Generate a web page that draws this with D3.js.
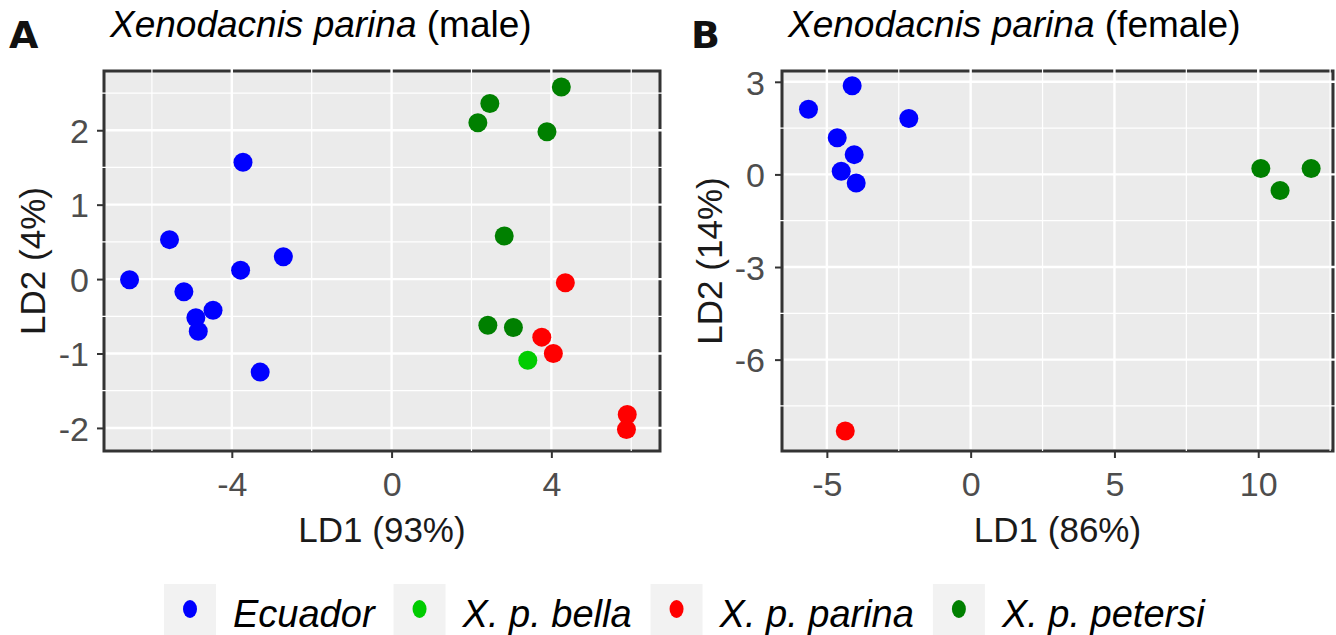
<!DOCTYPE html>
<html>
<head>
<meta charset="utf-8">
<script src="https://cdn.jsdelivr.net/npm/d3@7"></script>
<style>
  body { margin: 0; background: #fff; }
  svg { display: block; font-family: 'Liberation Sans', Arial, sans-serif; }
</style>
</head>
<body>
<svg id="chart" width="1336" height="635"></svg>
<script>
// groups in legend order
const groups = ['Ecuador', 'X. p. bella', 'X. p. parina', 'X. p. petersi'];
const groupColors = ['#0000FF', '#00CC00', '#FF0000', '#008000'];

// panel A - male, [LD1, LD2]
const maleEcuador = [[-6.56, -0.01], [-5.56, 0.53], [-5.20, -0.17], [-3.72, 1.57], [-3.78, 0.12],
  [-2.71, 0.30], [-4.90, -0.52], [-4.47, -0.42], [-4.84, -0.70], [-3.29, -1.25]];
const maleBella = [[3.41, -1.09]];
const maleParina = [[4.35, -0.05], [3.76, -0.78], [4.05, -1.00], [5.90, -1.82], [5.88, -2.02]];
const malePetersi = [[2.16, 2.10], [2.46, 2.36], [4.25, 2.58], [3.89, 1.98], [2.82, 0.58],
  [2.41, -0.62], [3.05, -0.65]];

// panel B - female
const femaleEcuador = [[-5.64, 2.11], [-4.12, 2.87], [-2.15, 1.81], [-4.64, 1.19], [-4.05, 0.64],
  [-4.50, 0.10], [-3.98, -0.28]];
const femaleBella = [];
const femaleParina = [[-4.36, -8.31]];
const femalePetersi = [[10.09, 0.19], [10.76, -0.52], [11.84, 0.19]];

const maleXTicks = [-4, 0, 4];
const maleXMinor = [-6, -2, 2, 6];
const maleYTicks = [-2, -1, 0, 1, 2];
const maleYMinor = [-1.5, -0.5, 0.5, 1.5, 2.5];
const femaleXTicks = [-5, 0, 5, 10];
const femaleXMinor = [-2.5, 2.5, 7.5, 12.5];
const femaleYTicks = [-6, -3, 0, 3];
const femaleYMinor = [-7.5, -4.5, -1.5, 1.5];

const svg = d3.select('#chart');
const color = d3.scaleOrdinal().domain(groups).range(groupColors);
const plainNum = d => String(d); // ggplot uses a plain hyphen for negatives

function drawPanel(p) {
  const x = d3.scaleLinear().domain(p.xDomain).range([p.left, p.right]);
  const y = d3.scaleLinear().domain(p.yDomain).range([p.bottom, p.top]);
  const g = svg.append('g');

  // panel letter + title
  g.append('text').attr('x', p.letterX).attr('y', 48)
    .style('font-family', "'DejaVu Sans', sans-serif")
    .style('font-weight', 'bold').style('font-size', '38px').style('fill', '#111')
    .text(p.letter);
  const title = g.append('text').attr('x', p.left + 6).attr('y', 37)
    .style('font-size', '37px').style('fill', '#000');
  title.append('tspan').style('font-style', 'italic').text('Xenodacnis parina');
  title.append('tspan').text(' ' + p.sex);

  // background + border
  g.append('rect').attr('x', p.left).attr('y', p.top)
    .attr('width', p.right - p.left).attr('height', p.bottom - p.top)
    .attr('fill', '#EBEBEB').attr('stroke', '#333').attr('stroke-width', 3);

  // grid (runs over the border, like the original)
  const grid = g.append('g').attr('stroke', '#fff');
  grid.selectAll('.vmin').data(p.xMinor).join('line')
    .attr('x1', d => x(d)).attr('x2', d => x(d)).attr('y1', p.top - 2).attr('y2', p.bottom)
    .attr('stroke-width', 1.2);
  grid.selectAll('.hmin').data(p.yMinor).join('line')
    .attr('y1', d => y(d)).attr('y2', d => y(d)).attr('x1', p.left - 2).attr('x2', p.right + 2)
    .attr('stroke-width', 1.2);
  grid.selectAll('.vmaj').data(p.xTicks).join('line')
    .attr('x1', d => x(d)).attr('x2', d => x(d)).attr('y1', p.top - 2).attr('y2', p.bottom - 2)
    .attr('stroke-width', 2.4);
  grid.selectAll('.hmaj').data(p.yTicks).join('line')
    .attr('y1', d => y(d)).attr('y2', d => y(d)).attr('x1', p.left + 2).attr('x2', p.right + 2)
    .attr('stroke-width', 2.4);

  // axes
  const xAxis = g.append('g').attr('transform', `translate(0,${p.bottom + 1})`)
    .call(d3.axisBottom(x).tickValues(p.xTicks).tickSize(6).tickPadding(14).tickFormat(plainNum));
  const yAxis = g.append('g').attr('transform', `translate(${p.left - 1},0)`)
    .call(d3.axisLeft(y).tickValues(p.yTicks).tickSize(6).tickPadding(p.yPad).tickFormat(plainNum));
  [xAxis, yAxis].forEach(a => {
    a.select('.domain').remove();
    a.selectAll('line').attr('stroke', '#333').attr('stroke-width', 2);
    a.selectAll('text').style('font-size', '34px').style('fill', '#4D4D4D')
      .style('font-family', "'Liberation Sans', Arial, sans-serif");
  });
  yAxis.selectAll('text').attr('dy', '0.36em');

  g.append('text').attr('x', (p.left + p.right) / 2).attr('y', 542)
    .attr('text-anchor', 'middle').style('font-size', '35px').style('fill', '#1a1a1a')
    .text(p.xLabel);
  g.append('text').attr('transform', `translate(${p.yLabelX},${(p.top + p.bottom) / 2}) rotate(-90)`)
    .attr('text-anchor', 'middle').style('font-size', '35px').style('fill', '#1a1a1a')
    .text(p.yLabel);

  // points
  const pts = [];
  p.series.forEach((s, i) => s.forEach(d => pts.push({ g: groups[i], x: d[0], y: d[1] })));
  g.append('g').selectAll('circle').data(pts).join('circle')
    .attr('cx', d => x(d.x)).attr('cy', d => y(d.y)).attr('r', 9.5)
    .attr('fill', d => color(d.g));
}

drawPanel({
  letter: 'A', letterX: 9, sex: '(male)',
  left: 104, right: 660, top: 71, bottom: 451,
  xDomain: [-7.2, 6.72], yDomain: [-2.31, 2.796],
  xTicks: maleXTicks, xMinor: maleXMinor, yTicks: maleYTicks, yMinor: maleYMinor, yPad: 8,
  xLabel: 'LD1 (93%)', yLabel: 'LD2 (4%)', yLabelX: 45,
  series: [maleEcuador, maleBella, maleParina, malePetersi]
});

drawPanel({
  letter: 'B', letterX: 691, sex: '(female)',
  left: 782, right: 1333, top: 71, bottom: 451,
  xDomain: [-6.56, 12.6], yDomain: [-8.96, 3.35],
  xTicks: femaleXTicks, xMinor: femaleXMinor, yTicks: femaleYTicks, yMinor: femaleYMinor, yPad: 10,
  xLabel: 'LD1 (86%)', yLabel: 'LD2 (14%)', yLabelX: 722,
  series: [femaleEcuador, femaleBella, femaleParina, femalePetersi]
});

// legend
const legend = svg.append('g');
let lx = 164;
groups.forEach((name, i) => {
  legend.append('rect').attr('x', lx).attr('y', 584).attr('width', 52).attr('height', 52)
    .attr('fill', '#F2F2F2');
  legend.append('ellipse').attr('cx', lx + 26).attr('cy', 609).attr('rx', 7).attr('ry', 9)
    .attr('fill', color(name));
  const t = legend.append('text').attr('x', lx + 69).attr('y', 627)
    .style('font-size', '38px').style('font-style', 'italic').style('fill', '#000')
    .text(name);
  lx += 69 + t.node().getComputedTextLength() + 19;
});
</script>
</body>
</html>
